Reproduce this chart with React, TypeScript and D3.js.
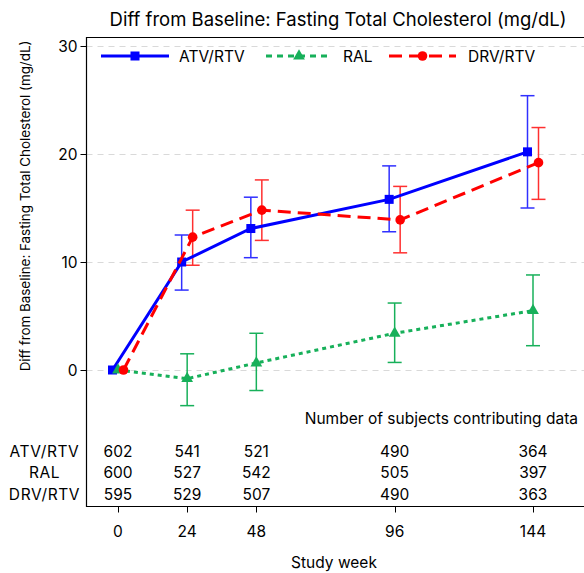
import React from "react";
import * as d3 from "d3";

const weeks = [0, 24, 48, 96, 144];
const seriesNames = ["ATV/RTV", "RAL", "DRV/RTV"];
const atvMean = [0, 10.0, 13.1, 15.8, 20.2];
const atvLow = [0, 7.4, 10.4, 12.8, 15.0];
const atvHigh = [0, 12.5, 16.0, 18.9, 25.4];
const ralMean = [0, -0.8, 0.65, 3.4, 5.5];
const ralLow = [0, -3.3, -1.9, 0.7, 2.25];
const ralHigh = [0, 1.5, 3.4, 6.2, 8.8];
const drvMean = [0, 12.3, 14.8, 13.9, 19.2];
const drvLow = [0, 9.7, 12.0, 10.85, 15.8];
const drvHigh = [0, 14.8, 17.6, 17.0, 22.45];
const atvN = [602, 541, 521, 490, 364];
const ralN = [600, 527, 542, 505, 397];
const drvN = [595, 529, 507, 490, 363];
const yTicks = [0, 10, 20, 30];

const FONT = "Inter, 'Liberation Sans', Arial, sans-serif";

export default function App() {
  const W = 584, H = 573;
  const left = 86.5, top = 37.5, bottom = 506.5, right = 600;
  const x = d3.scaleLinear().domain([0, 144]).range([118, 533]);
  const y = d3.scaleLinear().domain([0, 30]).range([370, 46]);

  const series = [
    { name: seriesNames[0], mean: atvMean, lo: atvLow, hi: atvHigh, n: atvN, color: "#0000ff", bar: "#3030ff", dash: "", ldash: "", off: -5.5, marker: "square" },
    { name: seriesNames[1], mean: ralMean, lo: ralLow, hi: ralHigh, n: ralN, color: "#17b05a", bar: "#17b05a", dash: "4,4", ldash: "6,5", off: 0, marker: "triangle" },
    { name: seriesNames[2], mean: drvMean, lo: drvLow, hi: drvHigh, n: drvN, color: "#ff0000", bar: "#ff3030", dash: "13,7", ldash: "13,7", off: 5.5, marker: "circle" },
  ];

  const line = d3.line<[number, number]>().x((d) => d[0]).y((d) => d[1]);

  const marker = (type: string, cx: number, cy: number, color: string, key: any) => {
    if (type === "square") return <rect key={key} x={cx - 4.5} y={cy - 4.5} width={9} height={9} fill={color} />;
    if (type === "triangle") return <path key={key} d={d3.symbol().type(d3.symbolTriangle).size(60)() as string} transform={`translate(${cx},${cy})`} fill={color} />;
    return <circle key={key} cx={cx} cy={cy} r={4.8} fill={color} />;
  };

  const legendItems = [
    { x0: 101, x1: 169, tx: 179 },
    { x0: 266, x1: 332, tx: 343 },
    { x0: 389, x1: 456, tx: 468 },
  ];
  const rowY = [451.5, 472.5, 494];
  const fs = 15.5;

  return (
    <svg width={W} height={H} style={{ position: "absolute", left: 0, top: 0 }} fontFamily={FONT}>
      <rect width={W} height={H} fill="#fff" />
      <text x={338} y={26} fontSize={18.5} textAnchor="middle" fill="#000">Diff from Baseline: Fasting Total Cholesterol (mg/dL)</text>
      {yTicks.map((t) => (
        <line key={"g" + t} x1={left} x2={right} y1={Math.round(y(t)) + 0.5} y2={Math.round(y(t)) + 0.5} stroke="#d9d9d9" strokeDasharray="6,5" />
      ))}
      <path d={`M${right},${top}H${left}V${bottom}H${right}`} fill="none" stroke="#000" strokeWidth={1.2} />
      {yTicks.map((t) => (
        <g key={"yt" + t}>
          <line x1={left - 6} x2={left} y1={Math.round(y(t)) + 0.5} y2={Math.round(y(t)) + 0.5} stroke="#000" />
          <text x={left - 9} y={y(t) + 5.5} fontSize={fs} textAnchor="end" fill="#000">{t}</text>
        </g>
      ))}
      {weeks.map((w) => (
        <g key={"xt" + w}>
          <line x1={Math.round(x(w)) + 0.5} x2={Math.round(x(w)) + 0.5} y1={bottom} y2={bottom + 6} stroke="#000" />
          <text x={x(w)} y={536.5} fontSize={fs} textAnchor="middle" fill="#000">{w}</text>
        </g>
      ))}
      <text x={334} y={568} fontSize={fs} textAnchor="middle" fill="#000">Study week</text>
      <text transform={`translate(30,206) rotate(-90)`} fontSize={13.4} textAnchor="middle" fill="#000">Diff from Baseline: Fasting Total Cholesterol (mg/dL)</text>
      {series.map((s, si) => (
        <g key={"s" + si}>
          {weeks.map((w, i) => {
            const cx = x(w) + s.off;
            if (s.hi[i] === s.lo[i]) return null;
            return (
              <g key={"e" + i} stroke={s.bar} strokeWidth={1.5}>
                <line x1={cx} x2={cx} y1={y(s.lo[i])} y2={y(s.hi[i])} />
                <line x1={cx - 7} x2={cx + 7} y1={y(s.lo[i])} y2={y(s.lo[i])} />
                <line x1={cx - 7} x2={cx + 7} y1={y(s.hi[i])} y2={y(s.hi[i])} />
              </g>
            );
          })}
        </g>
      ))}
      {series.map((s, si) => (
        <g key={"l" + si}>
          <path d={line(weeks.map((w, i) => [x(w) + s.off, y(s.mean[i])])) as string} fill="none" stroke={s.color} strokeWidth={3} strokeDasharray={s.dash} />
          {weeks.map((w, i) => marker(s.marker, x(w) + s.off, y(s.mean[i]), s.color, "m" + i))}
        </g>
      ))}
      {series.map((s, si) => {
        const L = legendItems[si];
        return (
          <g key={"lg" + si}>
            <line x1={L.x0} x2={L.x1} y1={56} y2={56} stroke={s.color} strokeWidth={3} strokeDasharray={s.ldash} />
            {marker(s.marker, (L.x0 + L.x1) / 2, 56, s.color, "lm")}
            <text x={L.tx} y={61.5} fontSize={fs} fill="#000">{s.name}</text>
          </g>
        );
      })}
      <text x={578} y={424} fontSize={fs} textAnchor="end" fill="#000">Number of subjects contributing data</text>
      {series.map((s, si) => (
        <g key={"t" + si}>
          <text x={44.5} y={rowY[si] + 5.5} fontSize={fs} letterSpacing={0.6} textAnchor="middle" fill="#000">{s.name}</text>
          {weeks.map((w, i) => (
            <text key={i} x={x(w)} y={rowY[si] + 5.5} fontSize={fs} textAnchor="middle" fill="#000">{s.n[i]}</text>
          ))}
        </g>
      ))}
    </svg>
  );
}
